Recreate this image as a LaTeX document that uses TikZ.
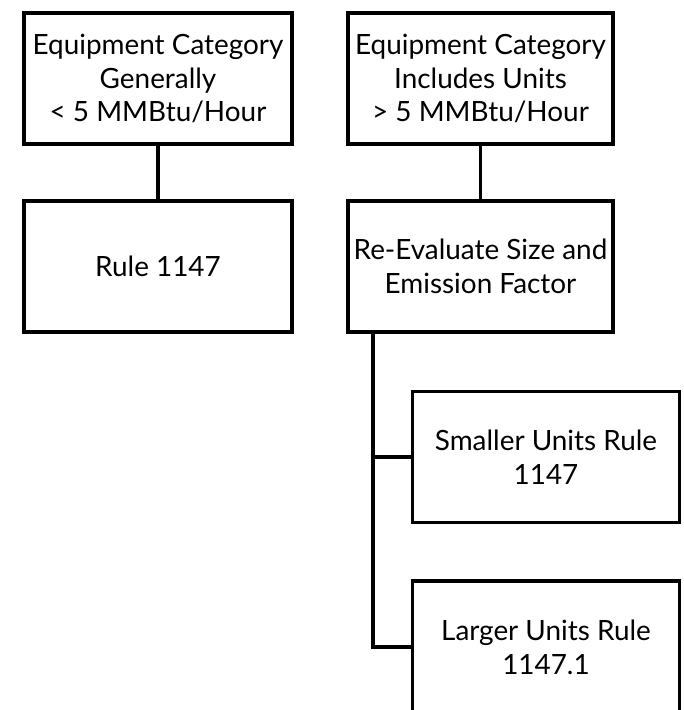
\documentclass[tikz,border=0pt]{standalone}
\usepackage{fontspec}
\setmainfont{Lato}
\begin{document}
\begin{tikzpicture}[x=1bp,y=-1bp,
  box/.style={draw=black, line width=3.8bp, fill=white, minimum height=131bp,
    align=center, inner sep=0pt, font=\fontsize{28}{34}\selectfont},
  link/.style={draw=black, line width=3.8bp}]
\useasboundingbox (0,0) rectangle (684,710);
\clip (0,0) rectangle (684,710);
\node[box, minimum width=268bp] (a) at (158,78.5) {Equipment Category\\Generally\\< 5 MMBtu/Hour};
\node[box, minimum width=268bp] (c) at (158,266.5) {Rule 1147};
\node[box, minimum width=265bp] (b) at (480.5,78.5) {Equipment Category\\Includes Units\\> 5 MMBtu/Hour};
\node[box, minimum width=265bp] (d) at (480.5,266.5) {Re-Evaluate Size and\\Emission Factor};
\node[box, minimum width=267bp] (e) at (546,457) {Smaller Units Rule\\1147};
\node[box, minimum width=267bp, minimum height=132bp] (f) at (546,647) {Larger Units Rule\\1147.1};
\coordinate (t) at (373,0);
\draw[link] (a.south) -- (c.north);
\draw[link] (b.south) -- (d.north);
\draw[link] (d.south -| t) |- (e.west);
\draw[link] (d.south -| t) |- (f.west);
\end{tikzpicture}
\end{document}
